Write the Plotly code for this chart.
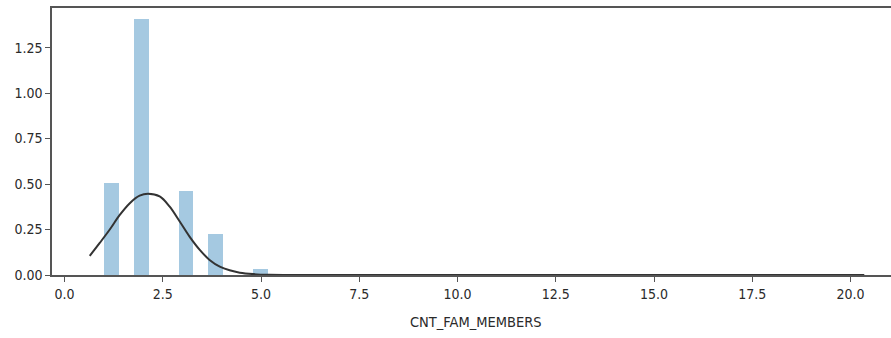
import numpy as np
import plotly.graph_objects as go

# Family size values and their histogram densities (50 bins spanning 1..20)
family_members = [1, 2, 3, 4, 5, 6, 7, 8, 9, 10, 11, 12, 14, 16, 20]
density = [0.506, 1.410, 0.463, 0.226, 0.035, 0.0035, 0.0007, 0.0002,
           0.0001, 0.0001, 0.0001, 0.0001, 0.0001, 0.0001, 0.0001]

# Kernel density estimate curve
kde_x = [0.64, 0.89, 1.15, 1.40, 1.66, 1.91, 2.12, 2.42, 2.67, 2.93, 3.18,
         3.44, 3.69, 3.95, 4.20, 4.46, 4.80, 5.20, 6.00, 8.00, 12.0, 16.0, 20.35]
kde_y = [0.105, 0.175, 0.250, 0.329, 0.395, 0.436, 0.447, 0.432, 0.377, 0.294,
         0.211, 0.138, 0.083, 0.046, 0.026, 0.013, 0.005, 0.001, 0.0, 0.0, 0.0,
         0.0, 0.0]

x_ticks = [0.0, 2.5, 5.0, 7.5, 10.0, 12.5, 15.0, 17.5, 20.0]
y_ticks = [0.00, 0.25, 0.50, 0.75, 1.00, 1.25]

# Histogram bins: 50 equal-width bins from min to max of the data
edges = np.linspace(min(family_members), max(family_members), 51)
bin_width = edges[1] - edges[0]
idx = np.clip(np.searchsorted(edges, family_members, side="right") - 1, 0, 49)
centers = (edges[idx] + edges[idx + 1]) / 2

FONT = "DejaVu Sans Condensed, Liberation Sans Narrow, DejaVu Sans, sans-serif"
AXIS_COLOR = "#555555"
TEXT_COLOR = "#2a2a2a"

fig = go.Figure()
fig.add_trace(go.Bar(
    x=centers, y=density, width=bin_width,
    marker=dict(color="#a5c9e1", line=dict(width=0)),
    hoverinfo="skip",
))
fig.add_trace(go.Scatter(
    x=kde_x, y=kde_y, mode="lines",
    line=dict(color="#333333", width=2, shape="spline", smoothing=1.0),
    hoverinfo="skip",
))

fig.update_layout(
    width=891, height=338,
    margin=dict(l=52, r=0, t=8, b=63),
    plot_bgcolor="white", paper_bgcolor="white",
    showlegend=False, bargap=0,
    font=dict(family=FONT, size=14, color=TEXT_COLOR),
    annotations=[dict(
        text="CNT_FAM_MEMBERS", xref="paper", yref="paper",
        x=0.505, y=0, xanchor="center", yanchor="top", yshift=-37,
        showarrow=False, font=dict(family=FONT, size=14.5, color=TEXT_COLOR),
    )],
)
fig.update_xaxes(
    range=[-0.32, 21.03], tickvals=x_ticks,
    ticktext=[f"{v:.1f}" for v in x_ticks],
    showgrid=False, zeroline=False,
    showline=True, linecolor=AXIS_COLOR, linewidth=1.5, mirror=True,
    ticks="outside", ticklen=5, tickcolor=AXIS_COLOR, tickwidth=1.2,
)
fig.update_yaxes(
    range=[0, 1.468], tickvals=y_ticks,
    ticktext=[f"{v:.2f}" for v in y_ticks],
    showgrid=False, zeroline=False,
    showline=True, linecolor=AXIS_COLOR, linewidth=1.5,
    ticks="outside", ticklen=5, tickcolor=AXIS_COLOR, tickwidth=1.2,
)

fig.write_html("out.html")
